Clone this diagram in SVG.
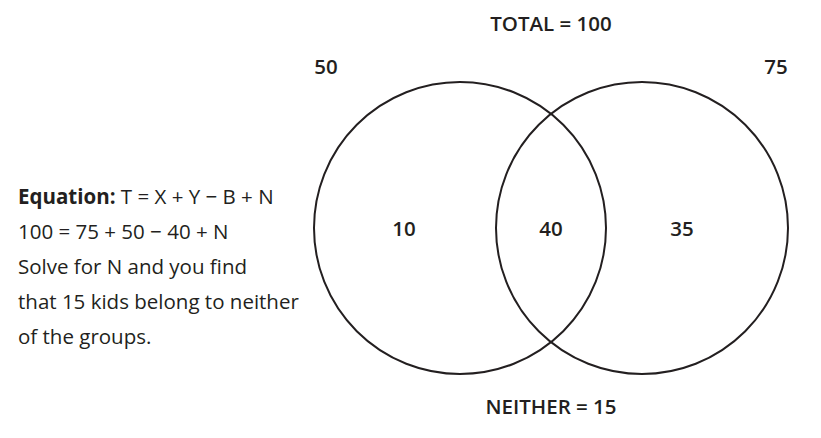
<svg xmlns="http://www.w3.org/2000/svg" width="821" height="438" viewBox="0 0 821 438">
<style>
.c{fill:none;stroke:#231f20;stroke-width:2}
.t{font-family:"Open Sans","Liberation Sans",sans-serif;font-size:20.5px;fill:#231f20}
.b{font-weight:600}
.m{text-anchor:middle}
</style>
<rect width="821" height="438" fill="#fff"/>
<g id="circle-left"><circle class="c" cx="460" cy="228" r="146"/></g>
<g id="circle-right"><circle class="c" cx="642" cy="228" r="146"/></g>
<g id="connectors"></g>
<g id="labels">
<text class="t b m" x="551" y="31">TOTAL = 100</text>
<text class="t b m" x="326" y="74">50</text>
<text class="t b m" x="776" y="74">75</text>
<text class="t b m" x="404" y="236">10</text>
<text class="t b m" x="551" y="236">40</text>
<text class="t b m" x="682" y="236">35</text>
<text class="t b m" x="551" y="414">NEITHER = 15</text>
</g>
<g id="equation">
<text class="t" x="18" y="204"><tspan font-weight="700">Equation:</tspan> T = X + Y − B + N</text>
<text class="t" x="18" y="239">100 = 75 + 50 − 40 + N</text>
<text class="t" x="18" y="274">Solve for N and you find</text>
<text class="t" x="18" y="309">that 15 kids belong to neither</text>
<text class="t" x="18" y="344">of the groups.</text>
</g>
</svg>
